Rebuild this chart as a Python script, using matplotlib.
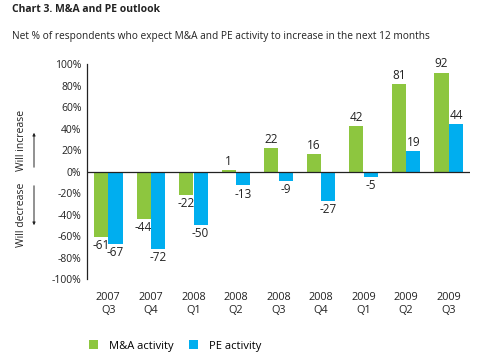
import matplotlib
matplotlib.use("Agg")
import matplotlib.pyplot as plt
from matplotlib.patches import FancyArrowPatch

plt.rcParams['font.family'] = ['Open Sans', 'DejaVu Sans']

categories = ["2007\nQ3", "2007\nQ4", "2008\nQ1", "2008\nQ2", "2008\nQ3",
              "2008\nQ4", "2009\nQ1", "2009\nQ2", "2009\nQ3"]
ma_activity = [-61, -44, -22, 1, 22, 16, 42, 81, 92]
pe_activity = [-67, -72, -50, -13, -9, -27, -5, 19, 44]
yticks = [-100, -80, -60, -40, -20, 0, 20, 40, 60, 80, 100]

green = "#8DC63F"
blue = "#00AEEF"

W, H = 487, 359
fig = plt.figure(figsize=(W / 100, H / 100), dpi=100)
ax = fig.add_axes([87 / W, 1 - 279 / H, (470 - 87) / W, (279 - 64) / H])

x = list(range(len(categories)))
bw = 0.33
gap = 0.01
xm = [i - bw / 2 - gap / 2 for i in x]
xp = [i + bw / 2 + gap / 2 for i in x]
ax.bar(xm, ma_activity, width=bw, color=green, label="M&A activity")
ax.bar(xp, pe_activity, width=bw, color=blue, label="PE activity")

for xs, vals in ((xm, ma_activity), (xp, pe_activity)):
    for xi, v in zip(xs, vals):
        if v >= 0:
            ax.text(xi, v + 2, str(v), ha="center", va="bottom", fontsize=8.5, color="#222222")
        else:
            ax.text(xi, v - 2, str(v), ha="center", va="top", fontsize=8.5, color="#222222")

ax.set_xlim(-0.5, 8.5)
ax.set_ylim(-100, 100)
ax.set_yticks(yticks)
ax.set_yticklabels([f"{t}%" for t in yticks], fontsize=7.5, color="#222222")
ax.set_xticks(x)
ax.set_xticklabels(categories, fontsize=7.8, color="#222222", linespacing=1.35)
ax.tick_params(axis="both", length=0, pad=4)
ax.tick_params(axis="x", pad=9)
ax.axhline(0, color="#222222", lw=0.9)
for s in ("top", "right", "bottom"):
    ax.spines[s].set_visible(False)
ax.spines["left"].set_color("#222222")
ax.spines["left"].set_linewidth(0.9)

fig.text(12 / W, 1 - 9 / H, "Chart 3. M&A and PE outlook", fontsize=7.5,
         fontweight="bold", ha="left", va="center", color="#222222")
fig.text(12 / W, 1 - 37 / H,
         "Net % of respondents who expect M&A and PE activity to increase in the next 12 months",
         fontsize=7.3, ha="left", va="center", color="#222222")

fig.text(22 / W, 1 - 140 / H, "Will increase", rotation=90, fontsize=7.5,
         ha="center", va="center", color="#222222")
fig.text(22 / W, 1 - 215 / H, "Will decrease", rotation=90, fontsize=7.5,
         ha="center", va="center", color="#222222")
fig.add_artist(FancyArrowPatch((34 / W, 1 - 170 / H), (34 / W, 1 - 130 / H),
                               transform=fig.transFigure, arrowstyle="-|>",
                               mutation_scale=4, lw=0.7, color="#222222"))
fig.add_artist(FancyArrowPatch((34 / W, 1 - 183 / H), (34 / W, 1 - 228 / H),
                               transform=fig.transFigure, arrowstyle="-|>",
                               mutation_scale=4, lw=0.7, color="#222222"))

leg = fig.legend(loc="center left", bbox_to_anchor=(79 / W, 1 - 346 / H), ncol=2,
                 frameon=False, fontsize=8, handlelength=0.8, handleheight=0.8,
                 columnspacing=1.4, handletextpad=1.0)

fig.savefig("out.png", dpi=100)
